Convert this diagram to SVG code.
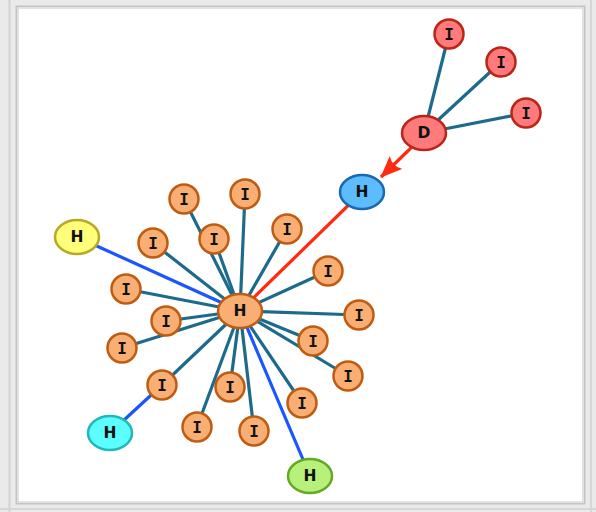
<svg xmlns="http://www.w3.org/2000/svg" width="596" height="512" viewBox="0 0 596 512">
<style>
.e{stroke:#1d6b8c;stroke-width:3.2;fill:none;stroke-linecap:round}
.b{stroke:#1a55ff;stroke-width:3.2;fill:none}
.r{stroke:#ff2a12;stroke-width:3.2;fill:none}
.o{fill:#f9ae74;stroke:#c05c12;stroke-width:2.5}
.rd{fill:#ff7a7a;stroke:#bb2418;stroke-width:2.5}
text{font-family:"DejaVu Sans","Liberation Sans",sans-serif;font-weight:bold;font-size:15.5px;text-anchor:middle;dominant-baseline:central;fill:#111}
text.i{font-family:"DejaVu Sans Mono","Liberation Mono",monospace;font-size:16px}
</style>
<defs>
<marker id="ah" viewBox="0 0 22 18" refX="21" refY="9" markerWidth="22" markerHeight="18" markerUnits="userSpaceOnUse" orient="auto">
<path d="M0,0 L22,9 L0,18 Q6,9 0,0 Z" fill="#ff2a12"/>
</marker>
</defs>
<rect x="0" y="0" width="596" height="512" fill="#eaeaea"/>
<line x1="9.5" y1="0" x2="9.5" y2="512" stroke="#d2d2d2" stroke-width="2"/>
<line x1="591" y1="0" x2="591" y2="512" stroke="#d6d6d6" stroke-width="2"/>
<line x1="0" y1="509" x2="596" y2="509" stroke="#d6d6d6" stroke-width="2"/>
<rect x="16.5" y="6.5" width="568" height="497" fill="#ffffff" stroke="#c4c4c4" stroke-width="2"/>
<rect x="18.5" y="8.5" width="564" height="493" fill="none" stroke="#e2e2e2" stroke-width="1"/>
<g id="connectors">
<line class="e" x1="240" y1="311" x2="184" y2="199"/>
<line class="e" x1="240" y1="311" x2="245" y2="194"/>
<line class="e" x1="240" y1="311" x2="287" y2="229"/>
<line class="e" x1="240" y1="311" x2="153" y2="243"/>
<line class="e" x1="240" y1="311" x2="214" y2="239"/>
<line class="e" x1="240" y1="311" x2="328" y2="271"/>
<line class="e" x1="240" y1="311" x2="126" y2="289"/>
<line class="e" x1="240" y1="311" x2="359" y2="315"/>
<line class="e" x1="240" y1="311" x2="166" y2="321"/>
<line class="e" x1="240" y1="311" x2="313" y2="341"/>
<line class="e" x1="240" y1="311" x2="122" y2="348"/>
<line class="e" x1="240" y1="311" x2="348" y2="376"/>
<line class="e" x1="240" y1="311" x2="162" y2="385"/>
<line class="e" x1="240" y1="311" x2="230" y2="387"/>
<line class="e" x1="240" y1="311" x2="302" y2="403"/>
<line class="e" x1="240" y1="311" x2="197" y2="427"/>
<line class="e" x1="240" y1="311" x2="254" y2="431"/>
<line class="b" x1="240" y1="311" x2="77" y2="237"/>
<line class="b" x1="240" y1="311" x2="310" y2="476"/>
<line class="b" x1="162" y1="385" x2="110" y2="433"/>
<line class="r" x1="240" y1="311" x2="362" y2="192"/>
<line class="e" x1="424" y1="133" x2="449" y2="34"/>
<line class="e" x1="424" y1="133" x2="501" y2="62"/>
<line class="e" x1="424" y1="133" x2="526" y2="113"/>
<line class="r" x1="413" y1="146" x2="381" y2="177" marker-end="url(#ah)"/>
</g>
<g id="n-center"><ellipse class="o" cx="240" cy="311" rx="22" ry="17"/><text x="240" y="311">H</text></g>
<g id="n-blue"><ellipse cx="362" cy="192" rx="22" ry="17" fill="#5cbcfc" stroke="#1b68b0" stroke-width="2.5"/><text x="362" y="192">H</text></g>
<g id="n-D"><ellipse class="rd" cx="424" cy="133" rx="22" ry="17"/><text x="424" y="133">D</text></g>
<g id="n-r1"><circle class="rd" cx="449" cy="34" r="14.5"/><text class="i" x="449" y="34">I</text></g>
<g id="n-r2"><circle class="rd" cx="501" cy="62" r="14.5"/><text class="i" x="501" y="62">I</text></g>
<g id="n-r3"><circle class="rd" cx="526" cy="113" r="14.5"/><text class="i" x="526" y="113">I</text></g>
<g id="n-yellow"><ellipse cx="77" cy="237" rx="22" ry="17" fill="#ffff7a" stroke="#b8a824" stroke-width="2.5"/><text x="77" y="237">H</text></g>
<g id="n-cyan"><ellipse cx="110" cy="433" rx="22" ry="17" fill="#5cffff" stroke="#22b8b8" stroke-width="2.5"/><text x="110" y="433">H</text></g>
<g id="n-green"><ellipse cx="310" cy="476" rx="22" ry="17" fill="#b8f07c" stroke="#64a824" stroke-width="2.5"/><text x="310" y="476">H</text></g>
<g id="n-i1"><circle class="o" cx="184" cy="199" r="14.5"/><text class="i" x="184" y="199">I</text></g>
<g id="n-i2"><circle class="o" cx="245" cy="194" r="14.5"/><text class="i" x="245" y="194">I</text></g>
<g id="n-i3"><circle class="o" cx="287" cy="229" r="14.5"/><text class="i" x="287" y="229">I</text></g>
<g id="n-i4"><circle class="o" cx="153" cy="243" r="14.5"/><text class="i" x="153" y="243">I</text></g>
<g id="n-i5"><circle class="o" cx="214" cy="239" r="14.5"/><text class="i" x="214" y="239">I</text></g>
<g id="n-i6"><circle class="o" cx="328" cy="271" r="14.5"/><text class="i" x="328" y="271">I</text></g>
<g id="n-i7"><circle class="o" cx="126" cy="289" r="14.5"/><text class="i" x="126" y="289">I</text></g>
<g id="n-i8"><circle class="o" cx="359" cy="315" r="14.5"/><text class="i" x="359" y="315">I</text></g>
<g id="n-i9"><circle class="o" cx="166" cy="321" r="14.5"/><text class="i" x="166" y="321">I</text></g>
<g id="n-i10"><circle class="o" cx="313" cy="341" r="14.5"/><text class="i" x="313" y="341">I</text></g>
<g id="n-i11"><circle class="o" cx="122" cy="348" r="14.5"/><text class="i" x="122" y="348">I</text></g>
<g id="n-i12"><circle class="o" cx="348" cy="376" r="14.5"/><text class="i" x="348" y="376">I</text></g>
<g id="n-i13"><circle class="o" cx="162" cy="385" r="14.5"/><text class="i" x="162" y="385">I</text></g>
<g id="n-i14"><circle class="o" cx="230" cy="387" r="14.5"/><text class="i" x="230" y="387">I</text></g>
<g id="n-i15"><circle class="o" cx="302" cy="403" r="14.5"/><text class="i" x="302" y="403">I</text></g>
<g id="n-i16"><circle class="o" cx="197" cy="427" r="14.5"/><text class="i" x="197" y="427">I</text></g>
<g id="n-i17"><circle class="o" cx="254" cy="431" r="14.5"/><text class="i" x="254" y="431">I</text></g>
</svg>
